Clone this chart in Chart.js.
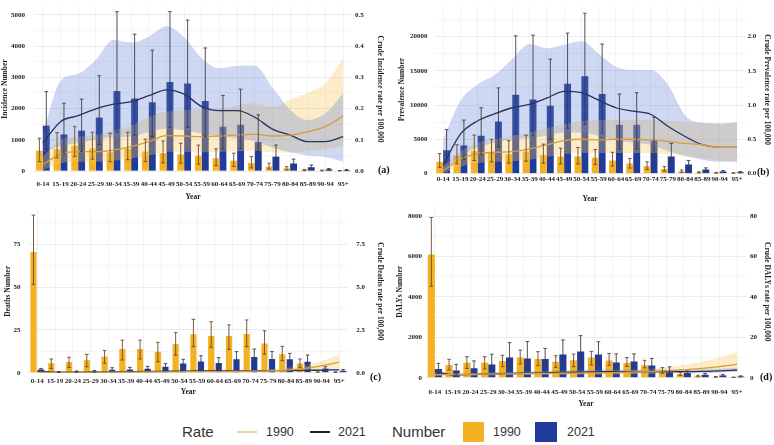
<!DOCTYPE html>
<html>
<head>
<meta charset="utf-8">
<script src="https://cdn.jsdelivr.net/npm/chart.js@4.4.1/dist/chart.umd.min.js"></script>
<style>
  body { margin: 0; background: #fff; width: 774px; height: 445px; overflow: hidden; position: relative; }
  .panel { position: absolute; }
  .tag { position: absolute; font: bold 10px "Liberation Serif", serif; color: #111; }
  .leg { position: absolute; font-family: "Liberation Sans", Arial, sans-serif; color: #333; white-space: nowrap; }
</style>
</head>
<body>
<div class="panel" style="left:0;top:0"><canvas id="chartA" width="385" height="205"></canvas></div>
<div class="panel" style="left:395px;top:0"><canvas id="chartB" width="379" height="205"></canvas></div>
<div class="panel" style="left:0;top:205px"><canvas id="chartC" width="385" height="197"></canvas></div>
<div class="panel" style="left:395px;top:205px"><canvas id="chartD" width="379" height="210"></canvas></div>

<div class="tag" style="left:378px;top:164px">(a)</div>
<div class="tag" style="left:757px;top:166px">(b)</div>
<div class="tag" style="left:370px;top:371px">(c)</div>
<div class="tag" style="left:760px;top:371px">(d)</div>

<div class="leg" style="left:182px;top:423px;font-size:15px;line-height:18px">Rate</div>
<div class="leg" style="left:237px;top:431px;width:20px;height:2px;background:#e3d4a6"></div>
<div class="leg" style="left:266px;top:424px;font-size:12.5px;line-height:16px">1990</div>
<div class="leg" style="left:310px;top:431px;width:20px;height:2px;background:#222"></div>
<div class="leg" style="left:338px;top:424px;font-size:12.5px;line-height:16px">2021</div>
<div class="leg" style="left:392px;top:423px;font-size:15px;line-height:18px">Number</div>
<div class="leg" style="left:463px;top:422px;width:21px;height:20px;background:#f4b223"></div>
<div class="leg" style="left:493px;top:424px;font-size:12.5px;line-height:16px">1990</div>
<div class="leg" style="left:535px;top:422px;width:22px;height:20px;background:#1f3b9b"></div>
<div class="leg" style="left:567px;top:424px;font-size:12.5px;line-height:16px">2021</div>

<script>
const ageGroups = ['0-14', '15-19', '20-24', '25-29', '30-34', '35-39', '40-44', '45-49', '50-54',
  '55-59', '60-64', '65-69', '70-74', '75-79', '80-84', '85-89', '90-94', '95+'];

// (a) incidence
const incNum1990 = [650, 700, 810, 720, 600, 710, 620, 570, 530, 490, 410, 330, 250, 140, 85, 30, 20, 10];
const incNum1990Lo = [300, 420, 470, 380, 300, 360, 300, 260, 250, 220, 180, 150, 100, 60, 30, 10, 5, 3];
const incNum1990Hi = [1050, 1230, 1420, 1240, 1210, 1240, 1020, 960, 890, 830, 710, 570, 460, 250, 140, 50, 30, 15];
const incNum2021 = [1450, 1170, 1290, 1710, 2560, 2320, 2200, 2850, 2800, 2240, 1420, 1480, 930, 460, 240, 120, 55, 30];
const incNum2021Lo = [700, 550, 620, 850, 1250, 1150, 1100, 1400, 1400, 1100, 700, 720, 550, 220, 110, 55, 25, 12];
const incNum2021Hi = [2540, 2170, 2300, 3050, 5100, 4380, 3870, 5100, 4830, 3940, 2420, 2620, 1800, 830, 380, 190, 80, 50];
const incRate1990 = [0.021, 0.054, 0.062, 0.062, 0.067, 0.078, 0.094, 0.113, 0.112, 0.11, 0.112, 0.115, 0.118, 0.112, 0.115, 0.126, 0.142, 0.176];
const incRate1990Lo = [0.003, 0.025, 0.03, 0.03, 0.033, 0.04, 0.05, 0.062, 0.062, 0.06, 0.062, 0.063, 0.065, 0.06, 0.06, 0.065, 0.07, 0.078];
const incRate1990Hi = [0.046, 0.1, 0.11, 0.115, 0.13, 0.145, 0.174, 0.19, 0.195, 0.198, 0.2, 0.21, 0.217, 0.205, 0.228, 0.25, 0.28, 0.36];
const incRate2021 = [0.089, 0.158, 0.177, 0.199, 0.214, 0.222, 0.241, 0.26, 0.246, 0.206, 0.193, 0.193, 0.172, 0.134, 0.115, 0.094, 0.094, 0.11];
const incRate2021Lo = [0.06, 0.08, 0.09, 0.1, 0.108, 0.11, 0.125, 0.135, 0.13, 0.12, 0.11, 0.105, 0.095, 0.075, 0.06, 0.05, 0.045, 0.03];
const incRate2021Hi = [0.12, 0.288, 0.311, 0.356, 0.42, 0.411, 0.43, 0.463, 0.428, 0.361, 0.329, 0.337, 0.338, 0.267, 0.196, 0.163, 0.185, 0.249];

// (b) prevalence
const prevNum1990 = [1700, 2600, 3300, 3000, 2800, 3200, 2700, 2500, 2500, 2300, 1900, 1450, 1100, 650, 300, 150, 100, 80];
const prevNum1990Lo = [900, 1400, 1900, 1700, 1500, 1800, 1500, 1400, 1400, 1300, 1100, 800, 600, 350, 150, 70, 50, 40];
const prevNum1990Hi = [2900, 4200, 5600, 5000, 4800, 5600, 4300, 3700, 3800, 3500, 3100, 2200, 1700, 1000, 500, 250, 160, 120];
const prevNum2021 = [3400, 4100, 5500, 7600, 11500, 10800, 9900, 13100, 14200, 11600, 7100, 7100, 4800, 2500, 1300, 580, 290, 190];
const prevNum2021Lo = [1700, 2100, 2800, 3900, 5800, 5500, 5000, 6600, 7200, 5900, 3600, 3600, 2400, 1300, 650, 300, 150, 100];
const prevNum2021Hi = [6400, 7800, 9600, 12500, 20100, 20200, 16700, 20500, 23400, 18900, 11600, 11800, 8200, 4400, 1900, 820, 420, 280];
const prevRate1990 = [0.04, 0.21, 0.29, 0.31, 0.32, 0.36, 0.42, 0.48, 0.5, 0.49, 0.5, 0.5, 0.49, 0.47, 0.44, 0.42, 0.38, 0.38];
const prevRate1990Lo = [0.0, 0.1, 0.15, 0.17, 0.18, 0.2, 0.24, 0.28, 0.3, 0.3, 0.3, 0.3, 0.3, 0.28, 0.26, 0.22, 0.19, 0.18];
const prevRate1990Hi = [0.1, 0.32, 0.45, 0.5, 0.55, 0.6, 0.66, 0.72, 0.76, 0.78, 0.78, 0.78, 0.78, 0.77, 0.75, 0.74, 0.73, 0.75];
const prevRate2021 = [0.12, 0.575, 0.77, 0.875, 0.96, 1.01, 1.1, 1.2, 1.18, 1.07, 0.96, 0.91, 0.865, 0.69, 0.54, 0.42, 0.38, 0.38];
const prevRate2021Lo = [0.04, 0.25, 0.38, 0.45, 0.5, 0.52, 0.55, 0.6, 0.6, 0.55, 0.48, 0.45, 0.42, 0.33, 0.26, 0.2, 0.17, 0.17];
const prevRate2021Hi = [0.5, 1.06, 1.3, 1.44, 1.67, 1.89, 1.83, 1.88, 1.93, 1.75, 1.56, 1.51, 1.51, 1.3, 0.85, 0.74, 0.73, 0.75];

// (c) deaths
const deathNum1990 = [70.5, 5.5, 6.2, 7.2, 9.4, 13.8, 13.8, 12.3, 16.8, 22.4, 21.4, 21.4, 22.6, 17.1, 10.7, 5.3, 0.6, 0.3];
const deathNum1990Lo = [51.6, 2.5, 3, 3.5, 5.5, 7.4, 8, 6.4, 10.3, 15.2, 14.8, 13.6, 15.2, 10.9, 7, 3.1, 0.3, 0.1];
const deathNum1990Hi = [92, 8, 9, 10.7, 13, 19, 19, 17.7, 23.4, 31.2, 29.8, 27.9, 30.8, 24.5, 15.4, 8, 1, 0.5];
const deathNum2021 = [1.9, 0.4, 0.6, 0.7, 1.7, 1.9, 2.3, 3.5, 5.3, 6.6, 5.7, 7.8, 9.2, 8.0, 7.8, 6.4, 2.5, 1.2];
const deathNum2021Lo = [1.2, 0.2, 0.3, 0.4, 1.0, 1.1, 1.4, 2.2, 3.5, 4.3, 3.7, 5.0, 6.0, 5.3, 5.0, 4.0, 1.5, 0.7];
const deathNum2021Hi = [2.5, 0.7, 1.0, 1.3, 2.9, 3.1, 3.7, 5.3, 7.8, 9.9, 8.8, 12.3, 13.8, 12.3, 11.3, 10.3, 3.5, 1.9];
const deathRate1990 = [0.02, 0.02, 0.02, 0.02, 0.03, 0.03, 0.04, 0.04, 0.05, 0.06, 0.06, 0.07, 0.09, 0.11, 0.15, 0.24, 0.4, 0.62];
const deathRate1990Lo = [0.01, 0.01, 0.01, 0.01, 0.01, 0.02, 0.02, 0.02, 0.03, 0.03, 0.03, 0.04, 0.05, 0.06, 0.08, 0.12, 0.2, 0.28];
const deathRate1990Hi = [0.03, 0.03, 0.03, 0.04, 0.05, 0.05, 0.06, 0.07, 0.08, 0.09, 0.1, 0.12, 0.15, 0.19, 0.27, 0.42, 0.68, 1.05];
const deathRate2021 = [0.1, 0.03, 0.03, 0.04, 0.05, 0.06, 0.07, 0.08, 0.09, 0.1, 0.1, 0.11, 0.11, 0.12, 0.12, 0.13, 0.15, 0.17];
const deathRate2021Lo = [0.07, 0.02, 0.02, 0.02, 0.03, 0.04, 0.05, 0.06, 0.07, 0.07, 0.07, 0.08, 0.08, 0.08, 0.08, 0.09, 0.1, 0.11];
const deathRate2021Hi = [0.13, 0.05, 0.05, 0.06, 0.07, 0.08, 0.09, 0.1, 0.12, 0.13, 0.13, 0.14, 0.15, 0.16, 0.17, 0.19, 0.22, 0.25];

// (d) DALYs
const dalyNum1990 = [6100, 630, 740, 740, 830, 1000, 920, 790, 870, 1000, 850, 730, 620, 350, 180, 80, 40, 20];
const dalyNum1990Lo = [4530, 380, 460, 430, 545, 680, 600, 510, 545, 630, 610, 560, 490, 220, 110, 45, 20, 10];
const dalyNum1990Hi = [7930, 910, 1040, 1040, 1110, 1370, 1290, 1090, 1170, 1300, 1200, 1000, 860, 500, 260, 120, 60, 30];
const dalyNum2021 = [430, 360, 470, 650, 1000, 950, 920, 1150, 1300, 1150, 750, 800, 600, 320, 230, 150, 110, 60];
const dalyNum2021Lo = [215, 180, 250, 350, 550, 460, 550, 630, 680, 600, 430, 450, 380, 200, 150, 100, 70, 40];
const dalyNum2021Hi = [710, 660, 830, 1160, 1740, 1790, 1450, 1870, 2080, 1780, 1180, 1180, 950, 540, 330, 210, 160, 90];
const dalyRate1990 = [1.5, 1.6, 1.7, 1.8, 1.9, 2.0, 2.1, 2.2, 2.3, 2.4, 2.5, 2.7, 3.0, 3.4, 3.9, 4.6, 5.5, 6.6];
const dalyRate1990Lo = [0.9, 1.0, 1.0, 1.1, 1.2, 1.3, 1.3, 1.4, 1.5, 1.5, 1.6, 1.7, 1.9, 2.1, 2.4, 2.8, 3.2, 3.6];
const dalyRate1990Hi = [2.2, 2.3, 2.4, 2.5, 2.6, 2.8, 2.9, 3.0, 3.2, 3.3, 3.5, 3.8, 4.3, 5.2, 6.3, 7.9, 10.0, 12.5];
const dalyRate2021 = [3.2, 1.4, 1.6, 1.8, 2.0, 2.2, 2.4, 2.6, 2.8, 2.9, 3.0, 3.0, 3.0, 3.0, 3.0, 3.1, 3.4, 3.8];
const dalyRate2021Lo = [2.4, 0.9, 1.1, 1.3, 1.4, 1.6, 1.7, 1.9, 2.0, 2.1, 2.2, 2.2, 2.2, 2.2, 2.2, 2.3, 2.5, 2.8];
const dalyRate2021Hi = [4.2, 2.0, 2.2, 2.5, 2.8, 3.0, 3.3, 3.6, 3.8, 3.9, 4.0, 4.0, 4.0, 4.0, 4.0, 4.1, 4.4, 4.9];

const ORANGE = '#f4b223';
const BLUE = '#1f3b9b';
const SERIF = '"Liberation Serif", "Times New Roman", serif';

// ticks at every step from 0 up to max (chart.js rounds stepSize away when max isn't a multiple)
function stepTicks(max, step) {
  const out = [];
  for (let i = 0; i * step <= max + 1e-9; i++) out.push({ value: Math.round(i * step * 10000) / 10000 });
  return out;
}
function isMultiple(v, step) {
  return Math.abs(v / step - Math.round(v / step)) < 1e-6;
}

function bandSet(data, color) {
  return {
    type: 'line', yAxisID: 'y1', data: data, order: 2,
    borderColor: 'rgba(0,0,0,0)', backgroundColor: color,
    pointRadius: 0, tension: 0.3, cubicInterpolationMode: 'monotone'
  };
}

function makePanel(id, d, look) {
  const errPlugin = {
    id: 'errBars' + id,
    afterDatasetsDraw(chart) {
      const ctx = chart.ctx;
      const ys = chart.scales.y;
      const sets = [[0, d.lo1990, d.hi1990, '#6b4a2c'], [1, d.lo2021, d.hi2021, '#3c3c44']];
      sets.forEach(([idx, lo, hi, col]) => {
        const meta = chart.getDatasetMeta(idx);
        ctx.save();
        ctx.strokeStyle = col;
        ctx.lineWidth = 0.9;
        meta.data.forEach((bar, i) => {
          const t = ys.getPixelForValue(hi[i]);
          const b = ys.getPixelForValue(lo[i]);
          ctx.beginPath();
          ctx.moveTo(bar.x, t); ctx.lineTo(bar.x, b);
          ctx.moveTo(bar.x - 1.8, t); ctx.lineTo(bar.x + 1.8, t);
          ctx.moveTo(bar.x - 1.8, b); ctx.lineTo(bar.x + 1.8, b);
          ctx.stroke();
        });
        ctx.restore();
      });
    }
  };

  const canvas = document.getElementById(id);
  const W = canvas.width, H = canvas.height;
  const tickFont = { family: SERIF, size: 7, weight: 'bold' };
  const titleFont = { family: SERIF, size: 7.5, weight: 'bold' };

  new Chart(canvas, {
    type: 'bar',
    data: {
      labels: ageGroups,
      datasets: [
        { label: '1990', data: d.num1990, backgroundColor: ORANGE, yAxisID: 'y', order: 3,
          categoryPercentage: look.catPct, barPercentage: look.barPct },
        { label: '2021', data: d.num2021, backgroundColor: BLUE, yAxisID: 'y', order: 3,
          categoryPercentage: look.catPct, barPercentage: look.barPct },
        Object.assign(bandSet(d.rateHi2021, 'rgba(95,125,215,0.30)'), { fill: '+1' }),
        bandSet(d.rateLo2021, 'rgba(0,0,0,0)'),
        Object.assign(bandSet(d.rateHi1990, 'rgba(246,200,90,0.34)'), { fill: '+1' }),
        bandSet(d.rateLo1990, 'rgba(0,0,0,0)'),
        { type: 'line', yAxisID: 'y1', data: d.rate1990, order: 1, borderColor: '#d99b3c',
          borderWidth: 1.3, pointRadius: 0, fill: false, tension: 0.3, cubicInterpolationMode: 'monotone' },
        { type: 'line', yAxisID: 'y1', data: d.rate2021, order: 1, borderColor: '#27325e',
          borderWidth: 1.3, pointRadius: 0, fill: false, tension: 0.3, cubicInterpolationMode: 'monotone' }
      ]
    },
    options: {
      responsive: false,
      animation: false,
      devicePixelRatio: 1,
      layout: { padding: { top: look.plotTop, left: 0, right: 0, bottom: 0 } },
      plugins: { legend: { display: false }, tooltip: { enabled: false } },
      scales: {
        x: {
          offset: true,
          grid: { offset: false, color: '#ececec', lineWidth: 0.7, drawTicks: false },
          border: { display: false },
          ticks: { autoSkip: false, maxRotation: 0, minRotation: 0, padding: look.xTickPad, color: '#222', font: tickFont },
          title: { display: true, text: 'Year', color: '#222', font: titleFont, padding: { top: 0, bottom: look.xTitlePad } },
          afterFit: s => { s.height = H - look.plotBottom; s.paddingLeft = 0; s.paddingRight = 0; }
        },
        y: {
          position: 'left', min: 0, max: look.yMax,
          grid: {
            drawTicks: false, lineWidth: 0.7,
            color: c => (c.tick && isMultiple(c.tick.value, look.yLabelStep)) ? '#e4e4e4' : '#f1f1f1'
          },
          border: { display: false },
          afterBuildTicks: s => { s.ticks = stepTicks(look.yMax, look.yStep); },
          ticks: {
            autoSkip: false, padding: look.yTickPad, color: '#222', font: tickFont,
            callback: v => (isMultiple(v, look.yLabelStep) ? String(v) : '')
          },
          title: { display: true, text: look.leftTitle, color: '#222', font: titleFont, padding: { top: look.yTitlePad, bottom: 0 } },
          afterFit: s => { s.width = look.plotLeft; s.paddingTop = 0; s.paddingBottom = 0; }
        },
        y1: {
          position: 'right', min: 0, max: look.y1Max,
          grid: { drawOnChartArea: false, drawTicks: false },
          border: { display: false },
          afterBuildTicks: s => { s.ticks = stepTicks(look.y1Max, look.y1Step); },
          ticks: {
            autoSkip: false, padding: look.y1TickPad, color: '#222', font: tickFont,
            callback: v => Number(v).toFixed(look.y1Dec)
          },
          title: { display: true, text: look.rightTitle, color: '#222', font: titleFont, padding: { top: look.y1TitlePad, bottom: 0 } },
          afterFit: s => { s.width = W - look.plotRight; s.paddingTop = 0; s.paddingBottom = 0; }
        }
      }
    },
    plugins: [errPlugin]
  });
}

makePanel('chartA', {
  num1990: incNum1990, lo1990: incNum1990Lo, hi1990: incNum1990Hi,
  num2021: incNum2021, lo2021: incNum2021Lo, hi2021: incNum2021Hi,
  rate1990: incRate1990, rateLo1990: incRate1990Lo, rateHi1990: incRate1990Hi,
  rate2021: incRate2021, rateLo2021: incRate2021Lo, rateHi2021: incRate2021Hi
}, {
  plotLeft: 34, plotRight: 352, plotTop: 7, plotBottom: 171,
  yMax: 5250, yStep: 500, yLabelStep: 1000, y1Max: 0.525, y1Step: 0.1, y1Dec: 1,
  leftTitle: 'Incidence Number', rightTitle: 'Crude Incidence rate per 100,000',
  xTickPad: 9, xTitlePad: 3, yTickPad: 9, yTitlePad: 1, y1TickPad: 3, y1TitlePad: 1,
  catPct: 0.78, barPct: 1.0
});

makePanel('chartB', {
  num1990: prevNum1990, lo1990: prevNum1990Lo, hi1990: prevNum1990Hi,
  num2021: prevNum2021, lo2021: prevNum2021Lo, hi2021: prevNum2021Hi,
  rate1990: prevRate1990, rateLo1990: prevRate1990Lo, rateHi1990: prevRate1990Hi,
  rate2021: prevRate2021, rateLo2021: prevRate2021Lo, rateHi2021: prevRate2021Hi
}, {
  plotLeft: 39.5, plotRight: 350.6, plotTop: 5.7, plotBottom: 173.5,
  yMax: 24500, yStep: 2500, yLabelStep: 5000, y1Max: 2.45, y1Step: 0.5, y1Dec: 1,
  leftTitle: 'Prevalence Number', rightTitle: 'Crude Prevalence rate per 100,000',
  xTickPad: 1, xTitlePad: 1.5, yTickPad: 7, yTitlePad: 3, y1TickPad: 2, y1TitlePad: 3,
  catPct: 0.8, barPct: 1.0
});

makePanel('chartC', {
  num1990: deathNum1990, lo1990: deathNum1990Lo, hi1990: deathNum1990Hi,
  num2021: deathNum2021, lo2021: deathNum2021Lo, hi2021: deathNum2021Hi,
  rate1990: deathRate1990, rateLo1990: deathRate1990Lo, rateHi1990: deathRate1990Hi,
  rate2021: deathRate2021, rateLo2021: deathRate2021Lo, rateHi2021: deathRate2021Hi
}, {
  plotLeft: 28.4, plotRight: 348.2, plotTop: 5, plotBottom: 167.7,
  yMax: 95, yStep: 12.5, yLabelStep: 25, y1Max: 9.5, y1Step: 2.5, y1Dec: 1,
  leftTitle: 'Deaths Number', rightTitle: 'Crude Deaths rate per 100,000',
  xTickPad: 4, xTitlePad: 5.5, yTickPad: 8, yTitlePad: 4, y1TickPad: 8, y1TitlePad: 1,
  catPct: 0.85, barPct: 0.82
});

makePanel('chartD', {
  num1990: dalyNum1990, lo1990: dalyNum1990Lo, hi1990: dalyNum1990Hi,
  num2021: dalyNum2021, lo2021: dalyNum2021Lo, hi2021: dalyNum2021Hi,
  rate1990: dalyRate1990, rateLo1990: dalyRate1990Lo, rateHi1990: dalyRate1990Hi,
  rate2021: dalyRate2021, rateLo2021: dalyRate2021Lo, rateHi2021: dalyRate2021Hi
}, {
  plotLeft: 31, plotRight: 351, plotTop: 1, plotBottom: 172.7,
  yMax: 8500, yStep: 1000, yLabelStep: 2000, y1Max: 85, y1Step: 20, y1Dec: 0,
  leftTitle: 'DALYs Number', rightTitle: 'Crude DALYs rate per 100,000',
  xTickPad: 10, xTitlePad: 6.5, yTickPad: 4, yTitlePad: 1, y1TickPad: 4, y1TitlePad: 3,
  catPct: 0.8, barPct: 1.0
});
</script>
</body>
</html>
